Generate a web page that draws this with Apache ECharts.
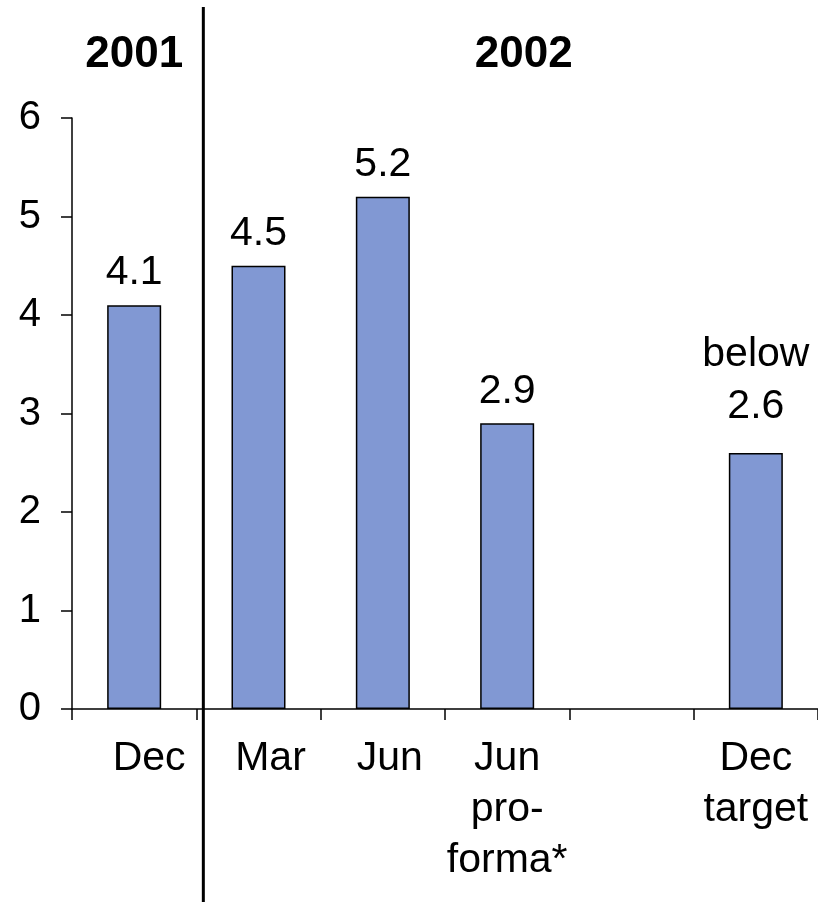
<!DOCTYPE html>
<html>
<head>
<meta charset="utf-8">
<script src="https://cdn.jsdelivr.net/npm/echarts@6/dist/echarts.min.js"></script>
<style>
  html, body { margin: 0; padding: 0; background: #fff; }
  #chart { width: 818px; height: 902px; }
</style>
</head>
<body>
<div id="chart"></div>
<script>
// categories on the x axis (empty slot between Jun pro-forma and Dec target)
const categories = ['Dec', 'Mar', 'Jun', 'Jun\npro-\nforma*', '', 'Dec\ntarget'];
// bar values
const values = [4.1, 4.5, 5.2, 2.9, null, 2.6];
// text shown above each bar
const barLabels = ['4.1', '4.5', '5.2', '2.9', '', 'below\n2.6'];
// year headings
const years = ['2001', '2002'];
const yTicks = [0, 1, 2, 3, 4, 5, 6];

const FONT = '"Liberation Sans", Arial, sans-serif';

// the category labels in the original sit a bit right of centre
const labelShift = [30, 24, 14, 0, 0, 0];

const myChart = echarts.init(document.getElementById('chart'));

const xData = categories.map(function (c, i) {
    return { value: c, textStyle: { padding: [0, 0, 0, labelShift[i]] } };
});

const barData = values.map(function (v, i) {
    const item = { value: v };
    // two line label stands a bit higher
    if (barLabels[i].indexOf('\n') >= 0) {
        item.label = { lineHeight: 52, distance: 20 };
    }
    return item;
});

const option = {
    animation: false,
    grid: {
        left: 72,
        top: 118,
        width: 750,
        height: 591
    },
    xAxis: {
        type: 'category',
        data: xData,
        axisLine: { lineStyle: { color: '#000', width: 1.5 } },
        axisTick: { show: true, length: 11, lineStyle: { color: '#000', width: 1.5 } },
        axisLabel: {
            color: '#000',
            fontFamily: FONT,
            fontSize: 41,
            lineHeight: 51,
            margin: 24,
            interval: 0
        }
    },
    yAxis: {
        type: 'value',
        min: yTicks[0],
        max: yTicks[yTicks.length - 1],
        interval: 1,
        splitLine: { show: false },
        axisLine: { show: true, lineStyle: { color: '#000', width: 1.5 } },
        axisTick: { show: true, length: 11, lineStyle: { color: '#000', width: 1.5 } },
        axisLabel: {
            color: '#000',
            fontFamily: FONT,
            fontSize: 40,
            margin: 31
        }
    },
    series: [{
        type: 'bar',
        barWidth: 54,
        data: barData,
        itemStyle: {
            color: '#8198d3',
            borderColor: '#000',
            borderWidth: 1.5
        },
        label: {
            show: true,
            position: 'top',
            distance: 8,
            color: '#000',
            fontFamily: FONT,
            fontSize: 41,
            lineHeight: 48,
            formatter: function (p) {
                return barLabels[p.dataIndex];
            }
        }
    }]
};

myChart.setOption(option);

// year headings and the divider line between 2001 and 2002
const step = myChart.convertToPixel({ xAxisIndex: 0 }, 1) - myChart.convertToPixel({ xAxisIndex: 0 }, 0);
const dividerX = myChart.convertToPixel({ xAxisIndex: 0 }, 1) - step / 2 + 7;
const yearCenters = [
    myChart.convertToPixel({ xAxisIndex: 0 }, 0),
    (dividerX + 818) / 2 + 13
];
const graphics = [{
    type: 'line',
    shape: { x1: dividerX, y1: 7, x2: dividerX, y2: 902 },
    style: { stroke: '#000', lineWidth: 3 }
}];
years.forEach(function (y, i) {
    graphics.push({
        type: 'text',
        x: yearCenters[i],
        y: 55,
        style: {
            text: y,
            font: 'bold 44px ' + FONT,
            fill: '#000',
            textAlign: 'center',
            textVerticalAlign: 'middle'
        }
    });
});
myChart.setOption({ graphic: graphics });
</script>
</body>
</html>
